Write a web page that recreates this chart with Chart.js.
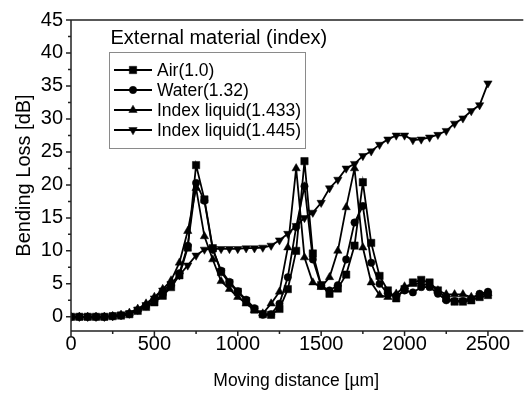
<!DOCTYPE html>
<html><head><meta charset="utf-8">
<script src="https://cdn.jsdelivr.net/npm/chart.js@4.4.1/dist/chart.umd.min.js"></script>
<style>html,body{margin:0;padding:0;background:#fff}#wrap{width:527px;height:393px;position:relative}</style>
</head><body><div id="wrap"><canvas id="c" width="527" height="393"></canvas></div>
<script>
const distances = [0,50,100,150,200,250,300,350,400,450,500,550,600,650,700,750,800,850,900,950,1000,1050,1100,1150,1200,1250,1300,1350,1400,1450,1500,1550,1600,1650,1700,1750,1800,1850,1900,1950,2000,2050,2100,2150,2200,2250,2300,2350,2400,2450,2500];
const airLoss = [0,0,0,0,0,0.1,0.2,0.4,0.9,1.5,2.2,3.2,4.5,6.3,10.5,23.0,17.8,10.4,6.8,5.1,3.8,2.4,1.1,0.4,0.3,1.2,4.2,10.0,23.6,9.6,4.8,3.5,4.3,6.4,10.8,20.4,11.2,6.2,4.0,2.8,4.2,5.2,5.6,5.2,4.0,2.8,2.3,2.3,2.5,3.0,3.3];
const waterLoss = [0,0,0,0,0,0.1,0.2,0.4,1.0,1.6,2.4,3.4,4.8,6.6,10.8,20.3,17.6,10.2,7.0,5.3,3.9,2.6,1.3,0.3,0.4,2.0,6.0,13.6,19.8,8.7,4.7,4.0,4.8,8.7,14.3,16.8,8.2,5.0,3.5,3.2,4.0,3.7,4.5,4.5,3.5,2.5,2.4,2.4,2.7,3.5,3.8];
const liquid1433Loss = [0,0,0,0,0,0.1,0.3,0.6,1.2,2.0,3.0,4.2,5.5,8.2,13.0,19.5,12.2,8.7,5.4,4.2,3.0,2.0,1.0,0.5,2.0,3.8,10.5,22.5,9.0,5.2,4.5,6.0,10.0,16.6,22.5,10.5,5.2,3.3,3.0,3.5,4.6,5.0,5.0,4.8,4.0,3.4,3.4,3.4,3.0,3.3,3.6];
const liquid1445Loss = [0,0,0,0,0,0.1,0.3,0.5,1.1,1.8,2.8,4.0,5.0,6.3,7.8,9.3,10.2,10.3,10.3,10.3,10.3,10.4,10.4,10.5,10.8,11.6,12.6,13.8,15.0,15.8,17.3,19.5,20.8,22.5,23.2,24.4,25.1,26.1,26.9,27.5,27.5,26.8,26.9,27.2,27.6,28.2,29.3,30.1,31.2,32.1,35.4];
const seriesNames = ['Air(1.0)','Water(1.32)','Index liquid(1.433)','Index liquid(1.445)'];
const legendTitle = 'External material (index)';
const xTicks = [0,500,1000,1500,2000,2500];
const yTicks = [0,5,10,15,20,25,30,35,40,45];
const xTitle = 'Moving distance [\u00b5m]';
const yTitle = 'Bending Loss [dB]';

const FONT = '"Liberation Sans", Arial, Helvetica, sans-serif';
const styles = [
  {pointStyle:'rect', radius:5.2, rotation:0},
  {pointStyle:'circle', radius:3.7, rotation:0},
  {pointStyle:'triangle', radius:4.8, rotation:0},
  {pointStyle:'triangle', radius:4.8, rotation:180}
];
const seriesValues = [airLoss, waterLoss, liquid1433Loss, liquid1445Loss];

const datasets = seriesValues.map((vals, i) => ({
  label: seriesNames[i],
  data: distances.map((d, j) => ({x: d, y: vals[j]})),
  borderColor: '#000',
  backgroundColor: '#000',
  borderWidth: 1.8,
  pointStyle: styles[i].pointStyle,
  pointRotation: styles[i].rotation,
  pointRadius: styles[i].radius,
  pointBorderWidth: 0.5,
  pointBorderColor: '#000',
  pointBackgroundColor: '#000',
  tension: 0
}));

function minorsOf(t){
  const out=[];
  for(let i=0;i<t.length-1;i++) out.push((t[i]+t[i+1])/2);
  const step=t[1]-t[0];
  out.push(t[t.length-1]+step/2);
  return out;
}

const axesPlugin = {
  id:'axesDraw',
  afterDraw(chart){
    const ctx=chart.ctx, a=chart.chartArea, xs=chart.scales.x, ys=chart.scales.y;
    ctx.save();
    ctx.strokeStyle='#222'; ctx.lineWidth=1.5;
    ctx.beginPath();
    ctx.moveTo(a.left, a.top); ctx.lineTo(a.right+2, a.top);
    ctx.moveTo(a.left, a.top); ctx.lineTo(a.left, a.bottom);
    ctx.moveTo(a.left, a.bottom); ctx.lineTo(a.right+2, a.bottom);
    yTicks.forEach(v=>{const p=ys.getPixelForValue(v); ctx.moveTo(a.left-5,p); ctx.lineTo(a.left,p);});
    minorsOf(yTicks).forEach(v=>{if(v<=ys.max){const p=ys.getPixelForValue(v); ctx.moveTo(a.left-3,p); ctx.lineTo(a.left,p);}});
    xTicks.forEach(v=>{const p=xs.getPixelForValue(v); ctx.moveTo(p,a.bottom); ctx.lineTo(p,a.bottom+5);});
    minorsOf(xTicks).forEach(v=>{if(v<=xs.max){const p=xs.getPixelForValue(v); ctx.moveTo(p,a.bottom); ctx.lineTo(p,a.bottom+3);}});
    ctx.stroke();

    // legend
    ctx.fillStyle='#000';
    ctx.font='20px '+FONT;
    ctx.textBaseline='alphabetic';
    ctx.textAlign='left';
    ctx.fillText(legendTitle, 110.5, 44);
    ctx.strokeStyle='#8a8a8a'; ctx.lineWidth=1;
    ctx.strokeRect(109.5, 52.5, 196, 96);
    ctx.font='17.5px '+FONT;
    seriesNames.forEach((name,i)=>{
      const y=70+20*i;
      ctx.strokeStyle='#000'; ctx.lineWidth=1.8;
      ctx.beginPath(); ctx.moveTo(114,y); ctx.lineTo(152,y); ctx.stroke();
      ctx.fillStyle='#000'; ctx.strokeStyle='#000'; ctx.lineWidth=0.5;
      Chart.helpers.drawPoint(ctx,{pointStyle:styles[i].pointStyle, rotation:styles[i].rotation, radius:styles[i].radius, borderWidth:0.5},133,y);
      ctx.fillStyle='#000';
      ctx.fillText(name, 157, y+6.3);
    });
    ctx.restore();
  }
};

new Chart(document.getElementById('c'), {
  type:'line',
  data:{datasets},
  options:{
    responsive:false,
    devicePixelRatio:1,
    animation:false,
    layout:{padding:{top:16,left:0,right:0,bottom:0}},
    plugins:{legend:{display:false}, tooltip:{enabled:false}},
    scales:{
      x:{
        type:'linear', min:0, max:2700,
        afterBuildTicks:s=>{s.ticks=xTicks.map(v=>({value:v}));},
        afterFit:s=>{s.height=62;},
        grid:{display:false, drawTicks:false},
        border:{display:false},
        ticks:{font:{family:FONT,size:20}, color:'#000', padding:1, maxRotation:0, autoSkip:false, callback:v=>String(v)},
        title:{display:true, text:xTitle, color:'#000', font:{family:FONT,size:17.5}, padding:{top:0,bottom:1}}
      },
      y:{
        type:'linear', min:-2.15, max:45,
        afterBuildTicks:s=>{s.ticks=yTicks.map(v=>({value:v}));},
        afterFit:s=>{s.width=71;},
        grid:{display:false, drawTicks:false},
        border:{display:false},
        ticks:{font:{family:FONT,size:20}, color:'#000', padding:8, autoSkip:false, callback:v=>String(v)},
        title:{display:true, text:yTitle, color:'#000', font:{family:FONT,size:20}, padding:{top:12,bottom:0}}
      }
    }
  },
  plugins:[axesPlugin]
});
</script></body></html>
